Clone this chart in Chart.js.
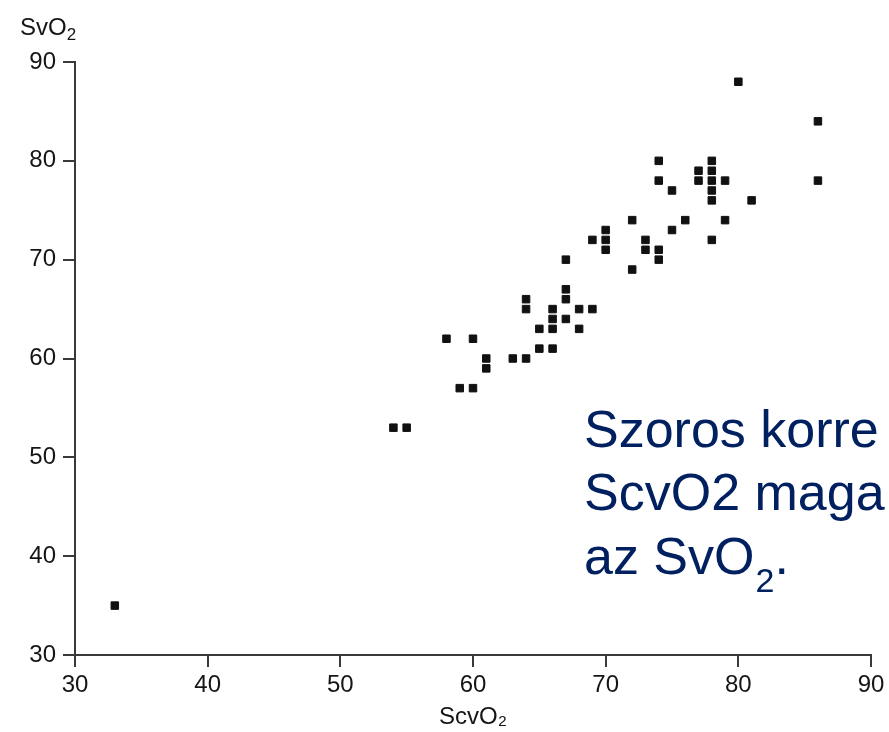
<!DOCTYPE html>
<html>
<head>
<meta charset="utf-8">
<script src="https://cdn.jsdelivr.net/npm/chart.js@4/dist/chart.umd.min.js"></script>
<style>
  html, body { margin: 0; padding: 0; background: #fff; }
  #wrap { width: 889px; height: 732px; }
</style>
</head>
<body>
<div id="wrap"><canvas id="chart" width="889" height="732"></canvas></div>
<script>
// ScvO2 vs SvO2, one point per measurement
const scvo2 = [33, 54, 55, 58, 60, 59, 60, 61, 61, 63, 64, 64, 64, 65, 65, 66, 66, 66, 66,
               67, 67, 67, 67, 68, 68, 69, 69, 70, 70, 70, 72, 72, 73, 73, 74, 74, 74, 74,
               75, 75, 76, 77, 77, 78, 78, 78, 78, 78, 78, 79, 79, 80, 81, 86, 86];
const svo2  = [35, 53, 53, 62, 62, 57, 57, 60, 59, 60, 60, 66, 65, 63, 61, 65, 64, 63, 61,
               70, 67, 66, 64, 65, 63, 65, 72, 73, 72, 71, 74, 69, 72, 71, 80, 78, 71, 70,
               77, 73, 74, 79, 78, 80, 79, 78, 77, 76, 72, 78, 74, 88, 76, 84, 78];
const xTicks = [30, 40, 50, 60, 70, 80, 90];
const yTicks = [30, 40, 50, 60, 70, 80, 90];

const noteLines = ['Szoros korre', 'ScvO2 maga', 'az SvO'];

const font = "'Liberation Sans', Arial, sans-serif";
const axisColor = '#3a3a3a';
const labelColor = '#151515';

const points = scvo2.map((x, i) => ({ x: x, y: svo2[i] }));

// felirat + y tengely cím
const textPlugin = {
  id: 'texts',
  afterDraw(chart) {
    const c = chart.ctx;
    c.save();
    c.textBaseline = 'alphabetic';
    c.textAlign = 'left';

    // y axis title: SvO2 with subscript
    c.fillStyle = labelColor;
    c.font = '24px ' + font;
    c.fillText('SvO', 20, 35);
    let w = c.measureText('SvO').width;
    c.font = '17px ' + font;
    c.fillText('2', 20 + w, 40);

    // blue note
    c.fillStyle = '#002060';
    c.font = '52px ' + font;
    c.fillText(noteLines[0], 584, 447);
    c.fillText(noteLines[1], 584, 510);
    c.fillText(noteLines[2], 584, 574);
    w = c.measureText(noteLines[2]).width;
    c.font = '34px ' + font;
    c.fillText('2', 584 + w + 1, 592);
    const w2 = c.measureText('2').width;
    c.font = '52px ' + font;
    c.fillText('.', 584 + w + w2 + 1, 574);
    c.restore();
  }
};

new Chart(document.getElementById('chart').getContext('2d'), {
  type: 'scatter',
  data: {
    datasets: [{
      data: points,
      pointStyle: 'rect',
      pointRadius: 5.3,
      borderWidth: 1,
      backgroundColor: '#111',
      borderColor: '#111'
    }]
  },
  options: {
    responsive: false,
    animation: false,
    layout: { padding: { top: 62, right: 18, left: 0, bottom: 0 } },
    plugins: { legend: { display: false }, tooltip: { enabled: false } },
    scales: {
      x: {
        type: 'linear',
        min: 30,
        max: 90,
        afterBuildTicks(s) { s.ticks = xTicks.map(v => ({ value: v })); },
        afterFit(s) { s.height = 77; },
        ticks: { color: labelColor, padding: 4, font: { family: font, size: 24 } },
        grid: { drawOnChartArea: false, drawTicks: true, tickLength: 12, color: axisColor, lineWidth: 2 },
        border: { display: true, color: axisColor, width: 2 },
        title: {
          display: true,
          text: 'ScvO₂',
          color: labelColor,
          font: { family: font, size: 24 },
          padding: { top: 0, bottom: 0 }
        }
      },
      y: {
        type: 'linear',
        min: 30,
        max: 90,
        afterBuildTicks(s) { s.ticks = yTicks.map(v => ({ value: v })); },
        afterFit(s) { s.width = 75; },
        ticks: { color: labelColor, padding: 7, font: { family: font, size: 24 } },
        grid: { drawOnChartArea: false, drawTicks: true, tickLength: 12, color: axisColor, lineWidth: 2 },
        border: { display: true, color: axisColor, width: 2 }
      }
    }
  },
  plugins: [textPlugin]
});
</script>
</body>
</html>
